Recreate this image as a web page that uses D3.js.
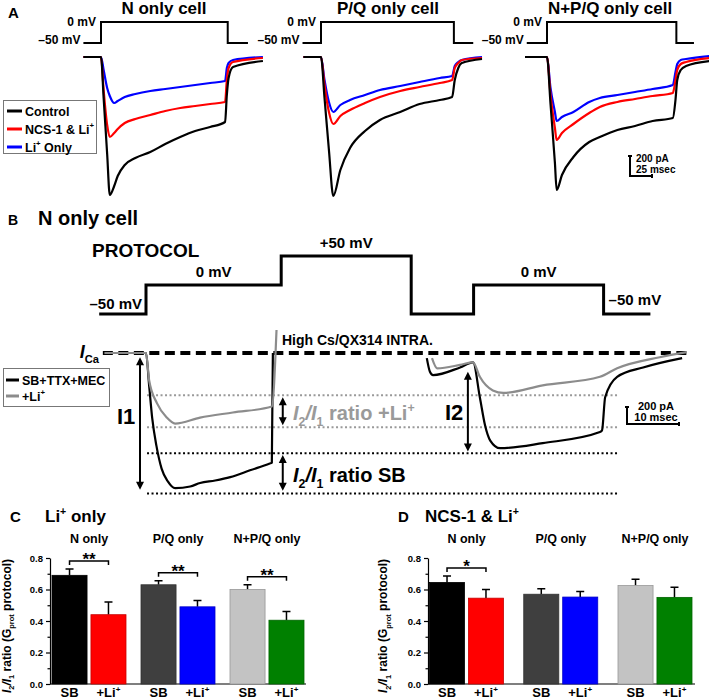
<!DOCTYPE html>
<html><head><meta charset="utf-8">
<script src="https://cdn.jsdelivr.net/npm/d3@7/dist/d3.min.js"></script>
<style>
html,body{margin:0;padding:0;background:#fff;}
svg{display:block;}
</style></head><body>
<svg id="fig" width="709" height="700"></svg>
<script>
// ================= DATA =================
// ---- Panel A: currents (pA) vs time (ms, 0 = step to 0 mV) ----
const cellTitlesA = ["N only cell", "P/Q only cell", "N+P/Q only cell"];
const seriesNamesA = ["Control", "NCS-1 & Li+", "Li+ Only"];
const seriesColorsA = ["#000000", "#ff0000", "#0000ff"];
const protoA_v = [-50, 0, -50, -50];
const protoA_tN = [-20, 0, 144, 167];
const protoA_tPQ = [-21, 0, 151, 173];
const protoA_tNPQ = [-23, 0, 147, 167];

const tA_N = [-20, 0, 3, 7, 10, 15, 19, 27, 39, 56, 73, 90, 107, 124, 141, 143, 145, 150, 184];
const ctrl_N = [0, 0, -410, -970, -1380, -1290, -1190, -1080, -1010, -950, -870, -800, -740, -700, -650, -380, -210, -100, -40];
const ncs_N  = [0, 0, -330, -680, -800, -760, -720, -660, -620, -580, -540, -510, -490, -470, -450, -230, -110, -50, -10];
const li_N   = [0, 0, -130, -310, -390, -460, -440, -400, -370, -340, -320, -300, -280, -260, -240, -110, -60, -30, 0];

const tA_PQ = [-20, 0, 4, 9, 14, 22, 33, 50, 67, 90, 112, 135, 149, 152, 156, 160, 183];
const ctrl_PQ = [0, 0, -410, -930, -1390, -1130, -910, -740, -630, -550, -470, -430, -400, -230, -110, -60, -20];
const ncs_PQ  = [0, 0, -280, -550, -670, -590, -530, -460, -400, -340, -300, -260, -230, -110, -60, -30, -10];
const li_PQ   = [0, 0, -230, -450, -550, -480, -430, -380, -330, -290, -250, -210, -190, -90, -50, -30, 0];

const tA_NPQ = [-25, 0, 4, 9, 11, 17, 30, 48, 60, 80, 100, 120, 143, 146, 148, 152, 158, 185];
const ctrl_NPQ = [0, 0, -470, -1060, -1330, -1180, -1000, -850, -800, -730, -690, -640, -610, -430, -230, -130, -90, -40];
const ncs_NPQ  = [0, 0, -380, -710, -830, -760, -670, -560, -500, -450, -420, -390, -360, -230, -130, -70, -50, -10];
const li_NPQ   = [0, 0, -310, -550, -640, -600, -550, -450, -410, -380, -350, -320, -280, -150, -70, -30, -20, 10];

// ---- Panel B ----
const protoB_t = [-9, 0, 26, 51, 63, 88, 97];
const protoB_v = [-50, 0, 50, -50, 0, -50, -50];
const legendB = ["SB+TTX+MEC", "+Li+"];
const tB1 = [-8, 0, 0.6, 1.2, 2, 3, 4.2, 5.6, 8.5, 10.4, 13.3, 16.2, 20, 23.8, 24.2, 24.4];
const blackB1 = [0, 0, -380, -770, -1090, -1360, -1510, -1590, -1570, -1530, -1500, -1460, -1380, -1300, -1290, 0];
const tG1 = [-8, 0, 0.6, 2.1, 4, 5.6, 10.4, 16.7, 24.2, 25.1];
const grayB1 = [0, 0, -320, -590, -760, -830, -760, -700, -630, 270];
const tB2 = [54, 54.6, 55.2, 60.4, 62.9, 64.2, 65.2, 66.2, 68.1, 76.3, 87.3, 87.7, 88.3, 90.6, 95.6, 103.1];
const blackB2 = [-60, -220, -260, -170, -110, -520, -850, -1030, -1120, -1060, -930, -910, -520, -280, -170, -60];
const tG2 = [55, 56, 60.4, 62.9, 64.2, 66.7, 68.7, 76.3, 87.3, 90.6, 98.8, 104];
const grayB2 = [-60, -180, -140, -110, -280, -440, -470, -380, -280, -180, -50, 10];
const levelsGrayB = [-496, -873];   // I2, I1 with Li+
const levelsBlackB = [-1180, -1652]; // I2, I1 SB

// ---- Panels C & D ----
const groupsCD = ["N only", "P/Q only", "N+P/Q only"];
const condCD = ["SB", "+Li+"];
const yTicksCD = [0.0, 0.2, 0.4, 0.6, 0.8];
const yMinorCD = [0.1, 0.3, 0.5, 0.7];
const sbColors = ["#000000", "#3f3f3f", "#c3c3c3"];
const liColors = ["#ff0000", "#0000ff", "#008000"];
const sbMeanC = [0.69, 0.63, 0.60];
const sbSemC  = [0.04, 0.025, 0.03];
const liMeanC = [0.44, 0.49, 0.405];
const liSemC  = [0.08, 0.04, 0.055];
const sigC = ["**", "**", "**"];
const sbMeanD = [0.645, 0.57, 0.625];
const sbSemD  = [0.04, 0.035, 0.04];
const liMeanD = [0.545, 0.552, 0.55];
const liSemD  = [0.055, 0.035, 0.065];
const sigD = ["*", "", ""];

// ================= DRAWING =================
const FONT = '"Liberation Sans", Arial, Helvetica, sans-serif';
const svg = d3.select("#fig").attr("font-family", FONT);
svg.append("rect").attr("width", 709).attr("height", 700).attr("fill", "#fff");

function rich(t, parts, size) {
  let shift = 0;
  parts.forEach(p => {
    if (typeof p === "string") p = {t: p};
    const target = p.sub ? size * 0.3 : p.sup ? -size * 0.42 : 0;
    const ts = t.append("tspan").text(p.t);
    if (target - shift !== 0) ts.attr("dy", target - shift);
    shift = target;
    if (p.sub || p.sup) ts.attr("font-size", size * 0.62);
    if (p.it) ts.attr("font-style", "italic");
  });
}
function txt(x, y, s, size, opts = {}) {
  const t = svg.append("text").attr("x", x).attr("y", y).attr("font-size", size)
    .attr("font-weight", "bold").attr("fill", opts.fill || "#000")
    .attr("text-anchor", opts.anchor || "start");
  if (opts.italic) t.attr("font-style", "italic");
  if (Array.isArray(s)) rich(t, s, size); else t.text(s);
  return t;
}
function labelParts(s) {
  const out = [];
  const re = /Li\+/g; let last = 0, m;
  while ((m = re.exec(s))) { out.push(s.slice(last, m.index) + "Li"); out.push({t: "+", sup: true}); last = m.index + 3; }
  out.push(s.slice(last));
  return out.filter(p => p !== "");
}

// ---------- Panel A ----------
const originA = [101, 321, 547];
const titleXA = [164, 388, 610];
const protoA = [protoA_tN, protoA_tPQ, protoA_tNPQ];
const timeA = [tA_N, tA_PQ, tA_NPQ];
const dataA = [[ctrl_N, ncs_N, li_N], [ctrl_PQ, ncs_PQ, li_PQ], [ctrl_NPQ, ncs_NPQ, li_NPQ]];
const yIA = d3.scaleLinear().domain([0, -1000]).range([57, 157]);
const yVA = d3.scaleLinear().domain([-50, 0]).range([43, 22]);

txt(8, 18, "A", 15);
cellTitlesA.forEach((ttl, i) => {
  const xs = d3.scaleLinear().domain([0, 100]).range([originA[i], originA[i] + 88]);
  txt(titleXA[i], 13.5, ttl, 17, {anchor: "middle"});
  const pl = d3.line().x(d => xs(d[0])).y(d => yVA(d[1])).curve(d3.curveStepAfter);
  svg.append("path").datum(d3.zip(protoA[i], protoA_v)).attr("d", pl)
    .attr("fill", "none").attr("stroke", "#000").attr("stroke-width", 2);
  txt(xs(0) - 5, yVA(0) + 3.5, "0 mV", 12, {anchor: "end"});
  txt(xs(protoA[i][0]) - 3, yVA(-50) + 0.5, "\u201350 mV", 12, {anchor: "end"});
  const tl = d3.line().x(d => xs(d[0])).y(d => yIA(d[1])).curve(d3.curveMonotoneX);
  [2, 1, 0].forEach(s => {
    svg.append("path").datum(d3.zip(timeA[i], dataA[i][s])).attr("d", tl)
      .attr("fill", "none").attr("stroke", seriesColorsA[s]).attr("stroke-width", 2.2)
      .attr("stroke-linejoin", "round");
  });
});
// Legend A
svg.append("rect").attr("x", 3.5).attr("y", 100.5).attr("width", 93).attr("height", 53)
  .attr("fill", "#fff").attr("stroke", "#777").attr("stroke-width", 1);
seriesNamesA.forEach((nm, i) => {
  const cy = 111 + i * 18;
  svg.append("line").attr("x1", 7).attr("x2", 22).attr("y1", cy).attr("y2", cy)
    .attr("stroke", seriesColorsA[i]).attr("stroke-width", 3);
  txt(25, cy + 4.5, labelParts(nm), 12.5);
});
// Scale bar A (200 pA, 25 ms)
{
  const x0 = 630, y0 = 176;
  const h = yIA(-200) - yIA(0), w = 25 * 0.88;
  svg.append("path").attr("d", `M${x0 - 2},${y0 - h}H${x0 + 2}M${x0},${y0 - h}V${y0}H${x0 + w}M${x0 + w},${y0 - 2}V${y0 + 2}`)
    .attr("fill", "none").attr("stroke", "#000").attr("stroke-width", 2);
  txt(x0 + 6, y0 - 14, "200 pA", 10);
  txt(x0 + 6, y0 - 3, "25 msec", 10);
}

// ---------- Panel B ----------
const xB = d3.scaleLinear().domain([0, 10]).range([146, 198]);
const yB = d3.scaleLinear().domain([0, -1000]).range([353, 438]);
const yVB = d3.scaleLinear().domain([-50, 50]).range([314, 256]);

txt(8, 225, "B", 14);
txt(38, 225, "N only cell", 20);
txt(92, 257, "PROTOCOL", 19);
svg.append("path").datum(d3.zip(protoB_t, protoB_v))
  .attr("d", d3.line().x(d => xB(d[0])).y(d => yVB(d[1])).curve(d3.curveStepAfter))
  .attr("fill", "none").attr("stroke", "#000").attr("stroke-width", 3);
txt(xB(protoB_t[1]) - 4, yVB(-50) - 5, "\u201350 mV", 15, {anchor: "end"});
txt((xB(protoB_t[1]) + xB(protoB_t[2])) / 2, yVB(0) - 8, "0 mV", 15, {anchor: "middle"});
txt((xB(protoB_t[2]) + xB(protoB_t[3])) / 2, yVB(50) - 8, "+50 mV", 15, {anchor: "middle"});
txt((xB(protoB_t[4]) + xB(protoB_t[5])) / 2, yVB(0) - 8, "0 mV", 15, {anchor: "middle"});
txt(xB(protoB_t[5]) + 5, yVB(-50) - 9, "\u201350 mV", 15);

txt(282, 345, "High Cs/QX314 INTRA.", 14);
txt(99, 358, [{t: "I", it: true}, {t: "Ca", sub: true}], 18, {anchor: "end"});
// dashed I=0 line
svg.append("line").attr("x1", xB(-8.3)).attr("x2", xB(104)).attr("y1", yB(0)).attr("y2", yB(0))
  .attr("stroke", "#000").attr("stroke-width", 4).attr("stroke-dasharray", "10,5.5");
// dotted level lines
[[levelsGrayB, "#999"], [levelsBlackB, "#000"]].forEach(([lv, c]) => {
  lv.forEach(v => {
    svg.append("line").attr("x1", xB(0.2)).attr("x2", xB(90.6)).attr("y1", yB(v)).attr("y2", yB(v))
      .attr("stroke", c).attr("stroke-width", 2).attr("stroke-dasharray", "2,2.5");
  });
});
// traces
const lB = d3.line().x(d => xB(d[0])).y(d => yB(d[1])).curve(d3.curveMonotoneX);
[[tB1, blackB1, "#000"], [tG1, grayB1, "#8c8c8c"], [tB2, blackB2, "#000"], [tG2, grayB2, "#8c8c8c"]].forEach(([t, v, c]) => {
  svg.append("path").datum(d3.zip(t, v)).attr("d", lB).attr("fill", "none")
    .attr("stroke", c).attr("stroke-width", 2.2).attr("stroke-linejoin", "round");
});
// double arrows
function dArrow(x, y1, y2) {
  const hl = 8, hw = 4;
  svg.append("line").attr("x1", x).attr("x2", x).attr("y1", y1 + hl - 1).attr("y2", y2 - hl + 1)
    .attr("stroke", "#000").attr("stroke-width", 2);
  svg.append("path").attr("d", `M${x},${y1}L${x - hw},${y1 + hl}L${x + hw},${y1 + hl}Z M${x},${y2}L${x - hw},${y2 - hl}L${x + hw},${y2 - hl}Z`)
    .attr("fill", "#000");
}
dArrow(xB(-1.15), yB(-50), yB(-1610));
dArrow(xB(26.3), yB(-520), yB(-850));
dArrow(xB(26.3), yB(-1200), yB(-1620));
dArrow(xB(61.9), yB(-220), yB(-1160));
txt(117, 424, "I1", 22);
txt(445, 420, "I2", 22);
txt(293, 420, [{t: "I", it: true}, {t: "2", sub: true}, {t: "/", it: true}, {t: "I", it: true}, {t: "1", sub: true}, " ratio +Li", {t: "+", sup: true}], 20, {fill: "#9a9a9a"});
txt(293, 482, [{t: "I", it: true}, {t: "2", sub: true}, {t: "/", it: true}, {t: "I", it: true}, {t: "1", sub: true}, " ratio SB"], 20);
// legend B
svg.append("rect").attr("x", 3.5).attr("y", 368.5).attr("width", 106).attr("height", 38)
  .attr("fill", "#fff").attr("stroke", "#777").attr("stroke-width", 1);
legendB.forEach((nm, i) => {
  const cy = 380 + i * 16;
  svg.append("line").attr("x1", 6).attr("x2", 19).attr("y1", cy).attr("y2", cy)
    .attr("stroke", i ? "#8c8c8c" : "#000").attr("stroke-width", 3);
  txt(22, cy + 4.5, i ? ["+Li", {t: "+", sup: true}] : nm, 12.5);
});
// scale bar B (200 pA, 10 ms)
{
  const x0 = 627, y0 = 424;
  const h = yB(-200) - yB(0), w = xB(10) - xB(0);
  svg.append("path").attr("d", `M${x0 - 2},${y0 - h}H${x0 + 2}M${x0},${y0 - h}V${y0}H${x0 + w}M${x0 + w},${y0 - 2}V${y0 + 2}`)
    .attr("fill", "none").attr("stroke", "#000").attr("stroke-width", 2);
  txt(x0 + 29, y0 - 14.5, "200 pA", 11, {anchor: "middle"});
  txt(x0 + 29, y0 - 3.5, "10 msec", 11, {anchor: "middle"});
}

// ---------- Panels C & D ----------
const yCD = d3.scaleLinear().domain([0, 0.8]).range([684, 558]);
function barPanel(cfg) {
  const gx = d3.scalePoint().domain(groupsCD).range(cfg.groupRange);
  const inner = d3.scaleBand().domain(condCD).range([-37, 37]).paddingInner(0.1);
  txt(cfg.letterX, 522, cfg.letter, 15);
  txt(cfg.titleX, 522, cfg.title, 17);
  groupsCD.forEach(g => txt(gx(g), 543, g, 12.5, {anchor: "middle"}));
  const yl = svg.append("text").attr("transform", `translate(${cfg.ylabX},626) rotate(-90)`)
    .attr("text-anchor", "middle").attr("font-size", 12).attr("font-weight", "bold");
  rich(yl, [{t: "I", it: true}, {t: "2", sub: true}, {t: "/", it: true}, {t: "I", it: true}, {t: "1", sub: true}, " ratio (G", {t: "prot", sub: true}, " protocol)"], 12);
  const ax = svg.append("g").attr("transform", `translate(${cfg.axisX},0)`)
    .call(d3.axisLeft(yCD).tickValues(yTicksCD).tickFormat(d3.format(".1f")).tickSize(4).tickSizeOuter(0));
  ax.attr("font-family", FONT);
  ax.select(".domain").attr("stroke", "#000").attr("stroke-width", 1.2);
  ax.selectAll(".tick line").attr("stroke", "#000").attr("stroke-width", 1.2);
  ax.selectAll(".tick text").attr("font-size", 9.5).attr("font-weight", "bold").attr("fill", "#000");
  const mx = svg.append("g").attr("transform", `translate(${cfg.axisX},0)`)
    .call(d3.axisLeft(yCD).tickValues(yMinorCD).tickFormat("").tickSize(2.5).tickSizeOuter(0));
  mx.select(".domain").remove();
  mx.selectAll(".tick line").attr("stroke", "#000").attr("stroke-width", 1.2);
  svg.append("line").attr("x1", cfg.axisX).attr("x2", cfg.axisEnd).attr("y1", yCD(0)).attr("y2", yCD(0))
    .attr("stroke", "#000").attr("stroke-width", 1.2);
  groupsCD.forEach((g, i) => {
    const vals = [cfg.sb[i], cfg.li[i]], sems = [cfg.sbSem[i], cfg.liSem[i]], cols = [sbColors[i], liColors[i]];
    const centers = [];
    condCD.forEach((c, j) => {
      const x0 = gx(g) + inner(c), bw = inner.bandwidth(), cx = x0 + bw / 2;
      centers.push(cx);
      svg.append("path").attr("d", `M${cx},${yCD(vals[j])}V${yCD(vals[j] + sems[j])}M${cx - 4},${yCD(vals[j] + sems[j])}H${cx + 4}`)
        .attr("stroke", "#000").attr("stroke-width", 1.5).attr("fill", "none");
      svg.append("rect").attr("x", x0).attr("y", yCD(vals[j])).attr("width", bw)
        .attr("height", yCD(0) - yCD(vals[j])).attr("fill", cols[j])
        .attr("stroke", d3.color(cols[j]).darker(0.7)).attr("stroke-width", 0.8);
      txt(cx, 697, labelParts(c), 13, {anchor: "middle"});
    });
    if (cfg.sig[i]) {
      const top = Math.max(vals[0] + sems[0], vals[1] + sems[1]);
      const yb = yCD(top) - 8;
      svg.append("path").attr("d", `M${centers[0]},${yb + 4}V${yb}H${centers[1]}V${yb + 4}`)
        .attr("fill", "none").attr("stroke", "#000").attr("stroke-width", 1.5);
      txt((centers[0] + centers[1]) / 2, yb + 4, cfg.sig[i], 17, {anchor: "middle"});
    }
  });
}
barPanel({letter: "C", letterX: 10, title: ["Li", {t: "+", sup: true}, " only"], titleX: 45,
  groupRange: [89, 267], axisX: 50, axisEnd: 306, ylabX: 10.5,
  sb: sbMeanC, sbSem: sbSemC, li: liMeanC, liSem: liSemC, sig: sigC});
barPanel({letter: "D", letterX: 398, title: ["NCS-1 & Li", {t: "+", sup: true}], titleX: 425,
  groupRange: [466.5, 655], axisX: 428, axisEnd: 695, ylabX: 387,
  sb: sbMeanD, sbSem: sbSemD, li: liMeanD, liSem: liSemD, sig: sigD});
</script>
</body></html>
